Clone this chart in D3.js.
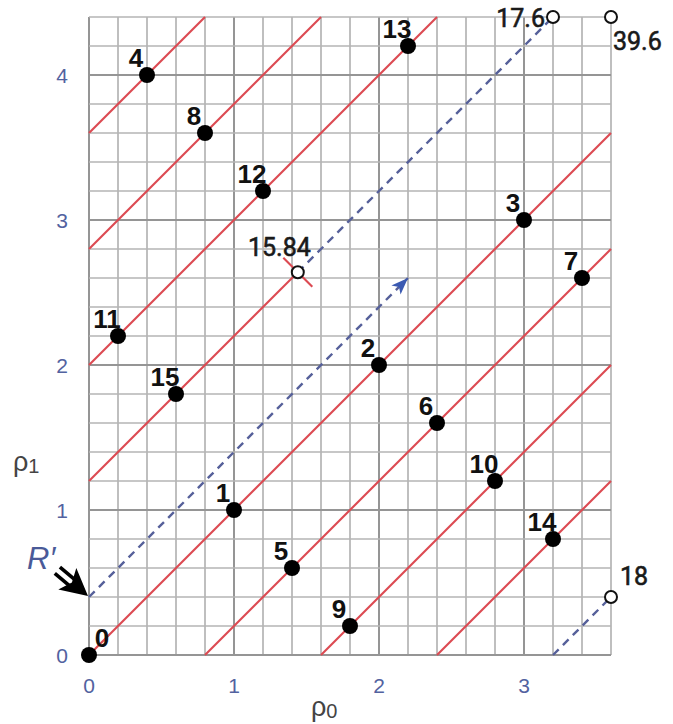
<!DOCTYPE html>
<html>
<head>
<meta charset="utf-8">
<script src="https://cdn.jsdelivr.net/npm/d3@7"></script>
<style>
  html, body { margin: 0; padding: 0; background: #fff; }
  svg { display: block; }
</style>
</head>
<body>
<svg id="chart" width="673" height="724"></svg>
<script>
// Lattice points 0..15 on the (ρ0, ρ1) torus
const pointIds   = [0, 1, 2, 3, 4, 5, 6, 7, 8, 9, 10, 11, 12, 13, 14, 15];
const pointRho0  = [0, 1, 2, 3, 0.4, 1.4, 2.4, 3.4, 0.8, 1.8, 2.8, 0.2, 1.2, 2.2, 3.2, 0.6];
const pointRho1  = [0, 1, 2, 3, 4.0, 0.6, 1.6, 2.6, 3.6, 0.2, 1.2, 2.2, 3.2, 4.2, 0.8, 1.8];

// Unit-slope red lines ρ1 = ρ0 + c, clipped to the cell; optional early stop in ρ0
const lineIntercepts = [3.6, 2.8, 2.0, 1.2, 0, -0.8, -1.6, -2.4];
const lineStopRho0   = [null, null, null, 1.44, null, null, null, null];

// Open markers with their values
const openLabels = ["15.84", "17.6", "39.6", "18"];
const openRho0   = [1.44, 3.2, 3.6, 3.6];
const openRho1   = [2.64, 4.4, 4.4, 0.4];

// Dashed blue paths (from -> to)
const dashFromRho0 = [0, 1.44, 3.2];
const dashFromRho1 = [0.4, 2.64, 0];
const dashToRho0   = [2.2, 3.2, 3.6];
const dashToRho1   = [2.6, 4.4, 0.4];
const dashArrow    = [true, false, false];

// Axis ticks
const rho0Ticks = [0, 1, 2, 3];
const rho1Ticks = [0, 1, 2, 3, 4];
const rho0Max = 3.6, rho1Max = 4.4, gridStep = 0.2;

const svg = d3.select("#chart");
const x = d3.scaleLinear().domain([0, rho0Max]).range([89, 611]);
const y = d3.scaleLinear().domain([0, rho1Max]).range([655, 17]);

const gridColor = "#b4b4b4", gridMajor = "#959595";
const redColor = "#dc4a52", dashColor = "#56609a", tickColor = "#5262a0";

// Grid
const gx = d3.range(0, rho0Max + 1e-9, gridStep);
const gy = d3.range(0, rho1Max + 1e-9, gridStep);
const isInt = v => Math.abs(v - Math.round(v)) < 1e-6;
const grid = svg.append("g");
grid.selectAll("line.v").data(gx).join("line")
  .attr("x1", d => x(d)).attr("x2", d => x(d))
  .attr("y1", y(0)).attr("y2", y(rho1Max))
  .attr("stroke", d => isInt(d) ? gridMajor : gridColor)
  .attr("stroke-width", d => isInt(d) ? 2 : 1.7);
grid.selectAll("line.h").data(gy).join("line")
  .attr("y1", d => y(d)).attr("y2", d => y(d))
  .attr("x1", x(0)).attr("x2", x(rho0Max))
  .attr("stroke", d => isInt(d) ? gridMajor : gridColor)
  .attr("stroke-width", d => isInt(d) ? 2 : 1.7);

// Red lines ρ1 = ρ0 + c
const segs = lineIntercepts.map((c, i) => {
  const x0 = Math.max(0, -c);
  let x1 = Math.min(rho0Max, rho1Max - c);
  if (lineStopRho0[i] !== null) x1 = lineStopRho0[i];
  return { x0, y0: x0 + c, x1, y1: x1 + c };
});
svg.append("g").selectAll("line").data(segs).join("line")
  .attr("x1", d => x(d.x0)).attr("y1", d => y(d.y0))
  .attr("x2", d => x(d.x1)).attr("y2", d => y(d.y1))
  .attr("stroke", redColor).attr("stroke-width", 2.1);

// Short perpendicular tick through the 15.84 marker
svg.append("line")
  .attr("x1", x(openRho0[0] - 0.1)).attr("y1", y(openRho1[0] + 0.1))
  .attr("x2", x(openRho0[0] + 0.1)).attr("y2", y(openRho1[0] - 0.1))
  .attr("stroke", redColor).attr("stroke-width", 2.1);

// Dashed blue paths
const dashes = dashFromRho0.map((d, i) => ({
  x0: dashFromRho0[i], y0: dashFromRho1[i], x1: dashToRho0[i], y1: dashToRho1[i], arrow: dashArrow[i]
}));
svg.append("g").selectAll("line").data(dashes).join("line")
  .attr("x1", d => x(d.x0)).attr("y1", d => y(d.y0))
  .attr("x2", d => x(d.x1)).attr("y2", d => y(d.y1))
  .attr("stroke", dashColor).attr("stroke-width", 2.4)
  .attr("stroke-dasharray", "8,6");
// solid arrowhead at the end of the R′ path
dashes.filter(d => d.arrow).forEach(d => {
  const tx = x(d.x1), ty = y(d.y1);
  const ang = Math.atan2(y(d.y1) - y(d.y0), x(d.x1) - x(d.x0));
  const L = 17, W = 6.5;
  const bx = tx - L * Math.cos(ang), by = ty - L * Math.sin(ang);
  const px = -Math.sin(ang) * W, py = Math.cos(ang) * W;
  svg.append("path")
    .attr("d", `M${tx},${ty} L${bx + px},${by + py} L${bx + L*0.25*Math.cos(ang)},${by + L*0.25*Math.sin(ang)} L${bx - px},${by - py} Z`)
    .attr("fill", "#3b5ab2");
});

// Filled lattice points
const pts = pointIds.map((id, i) => ({ id, r0: pointRho0[i], r1: pointRho1[i] }));
svg.append("g").selectAll("circle").data(pts).join("circle")
  .attr("cx", d => x(d.r0)).attr("cy", d => y(d.r1)).attr("r", 8)
  .attr("fill", "#000");
svg.append("g").selectAll("text").data(pts).join("text")
  .attr("x", d => x(d.r0) + (d.id === 0 ? 13 : -11))
  .attr("y", d => y(d.r1) - 8)
  .attr("text-anchor", "middle")
  .attr("font-family", "Liberation Sans, Arial, sans-serif")
  .attr("font-weight", "bold").attr("font-size", 26)
  .attr("fill", "#111")
  .text(d => d.id);

// Open markers
const opens = openLabels.map((t, i) => ({ t, r0: openRho0[i], r1: openRho1[i] }));
svg.append("g").selectAll("circle").data(opens).join("circle")
  .attr("cx", d => x(d.r0)).attr("cy", d => y(d.r1)).attr("r", 6)
  .attr("fill", "#fff").attr("stroke", "#111").attr("stroke-width", 2);
const openDx = [13, -8, 2, 9], openDy = [-16, 10, 33, -12], openAnchor = ["end", "end", "start", "start"];
svg.append("g").selectAll("text").data(opens).join("text")
  .attr("x", (d, i) => x(d.r0) + openDx[i])
  .attr("y", (d, i) => y(d.r1) + openDy[i])
  .attr("text-anchor", (d, i) => openAnchor[i])
  .attr("font-family", "Roboto, Liberation Sans, sans-serif")
  .attr("font-size", 25).attr("fill", "#1a1a1a")
  .attr("stroke", "#1a1a1a").attr("stroke-width", 0.6)
  .text(d => d.t);

// Tick labels
svg.append("g").selectAll("text").data(rho0Ticks).join("text")
  .attr("x", d => x(d)).attr("y", 693)
  .attr("text-anchor", "middle")
  .attr("font-family", "Liberation Sans, Arial, sans-serif")
  .attr("font-size", 21).attr("fill", tickColor)
  .text(d => d);
svg.append("g").selectAll("text").data(rho1Ticks).join("text")
  .attr("x", 68).attr("y", d => y(d) + 8)
  .attr("text-anchor", "end")
  .attr("font-family", "Liberation Sans, Arial, sans-serif")
  .attr("font-size", 21).attr("fill", tickColor)
  .text(d => d);

// Axis titles
const t0 = svg.append("text").attr("x", 311).attr("y", 716)
  .attr("font-family", "Liberation Sans, Arial, sans-serif").attr("fill", "#444");
t0.append("tspan").attr("font-size", 27).text("ρ");
t0.append("tspan").attr("font-size", 20).attr("dy", 2).text("0");
const t1 = svg.append("text").attr("x", 13).attr("y", 471)
  .attr("font-family", "Liberation Sans, Arial, sans-serif").attr("fill", "#444");
t1.append("tspan").attr("font-size", 27).text("ρ");
t1.append("tspan").attr("font-size", 20).attr("dy", 2).text("1");

// R′ label and pointer arrow to the start of the dashed path
svg.append("text").attr("x", 27).attr("y", 569)
  .attr("font-family", "Liberation Sans, Arial, sans-serif")
  .attr("font-style", "italic").attr("font-size", 31).attr("fill", "#4a5a98")
  .text("R′");
const tip = [x(dashFromRho0[0]) - 1, y(dashFromRho1[0]) - 1];
const ang = Math.atan2(26, 31);
const ux = Math.cos(ang), uy = Math.sin(ang), nx = -uy, ny = ux;
const headL = 27, headW = 14;
const hb = [tip[0] - headL * ux, tip[1] - headL * uy];
svg.append("path")
  .attr("d", `M${tip[0]},${tip[1]} L${hb[0] + nx*headW},${hb[1] + ny*headW} L${hb[0] + 6*ux},${hb[1] + 6*uy} L${hb[0] - nx*headW},${hb[1] - ny*headW} Z`)
  .attr("fill", "#000");
[-4, 4].forEach(off => {
  svg.append("line")
    .attr("x1", hb[0] + nx*off - 13*ux).attr("y1", hb[1] + ny*off - 13*uy)
    .attr("x2", hb[0] + nx*off + 6*ux).attr("y2", hb[1] + ny*off + 6*uy)
    .attr("stroke", "#000").attr("stroke-width", 3.6);
});
</script>
</body>
</html>
